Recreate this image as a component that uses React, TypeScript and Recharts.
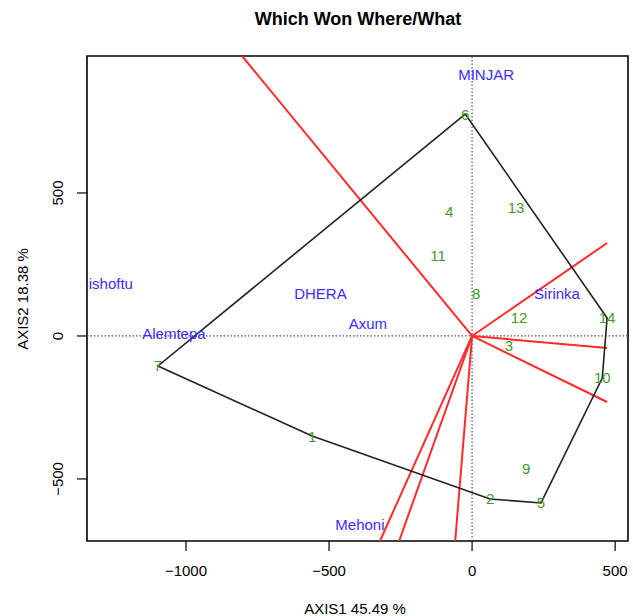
import React from "react";
import {
  ReferenceArea,
  ReferenceLine,
  Scatter,
  ScatterChart,
  XAxis,
  YAxis,
} from "recharts";

// genotype scores (green numbers)
const genotypeNames = ["1", "2", "3", "4", "5", "6", "7", "8", "9", "10", "11", "12", "13", "14"];
const genotypeX = [-559, 63, 129, -80, 241, -24, -1098, 14, 189, 455, -119, 164, 154, 472];
const genotypeY = [-350, -570, -35, 434, -584, 776, -105, 150, -465, -147, 280, 63, 448, 63];

// environment scores (blue labels)
const envNames = ["MINJAR", "Bishoftu", "Alemtepa", "DHERA", "Axum", "Sirinka", "Mehoni"];
const envX = [49, -1280, -1042, -530, -364, 297, -392];
const envY = [916, 182, 10, 147, 45, 147, -661];

// polygon vertices, in drawing order
const hullOrder = ["6", "14", "10", "5", "2", "1", "7", "6"];

// end points of the sector rays from the origin
const rayX = [-804, 472, 472, 472, -322, -255, -59];
const rayY = [979, 325, -42, -231, -717, -717, -717];

const xTicks = [-1000, -500, 0, 500];
const yTicks = [-500, 0, 500];
const xDomain = [-1346, 545];
const yDomain = [-717, 979];

const FONT = "'Liberation Sans', Arial, Helvetica, sans-serif";

const genotypes = genotypeNames.map((name, i) => ({ name, x: genotypeX[i], y: genotypeY[i] }));
const envs = envNames.map((name, i) => ({ name, x: envX[i], y: envY[i] }));
const hull = hullOrder.map((n) => genotypes.find((g) => g.name === n)!);

const minus = (v: number) => String(v).replace("-", "\u2212");

const GenoLabel = (props: any) => (
  <text
    x={props.cx}
    y={props.cy}
    textAnchor="middle"
    dominantBaseline="central"
    fontSize={15}
    fontFamily={FONT}
    fill="#3f9b2c"
  >
    {props.payload.name}
  </text>
);

const EnvLabel = (props: any) => (
  <text
    x={props.cx}
    y={props.cy}
    textAnchor="middle"
    dominantBaseline="central"
    fontSize={15}
    fontFamily={FONT}
    fill="#3a2cff"
  >
    {props.payload.name}
  </text>
);

const NoDot = () => <g />;

const YTick = (props: any) => {
  const bx = props.x - 12;
  return (
    <text
      x={bx}
      y={props.y}
      transform={`rotate(-90, ${bx}, ${props.y})`}
      textAnchor="middle"
      fontSize={15}
      fontFamily={FONT}
      fill="#000"
    >
      {minus(props.payload.value)}
    </text>
  );
};

export default function App() {
  return (
    <div style={{ position: "absolute", left: 0, top: 0, width: 633, height: 616, background: "#fff" }}>
      <ScatterChart
        width={633}
        height={616}
        margin={{ top: 56, right: 5, bottom: 0, left: 0 }}
      >
        <XAxis
          type="number"
          dataKey="x"
          domain={xDomain}
          ticks={xTicks}
          allowDataOverflow
          axisLine={false}
          tickSize={10}
          tickMargin={14}
          height={75}
          tickLine={{ stroke: "#000", strokeWidth: 1.2 }}
          tick={{ fill: "#000", fontSize: 15, fontFamily: FONT }}
          tickFormatter={minus}
        />
        <YAxis
          type="number"
          dataKey="y"
          domain={yDomain}
          ticks={yTicks}
          allowDataOverflow
          axisLine={false}
          tickSize={10}
          tickMargin={2}
          width={87}
          tickLine={{ stroke: "#000", strokeWidth: 1.2 }}
          tick={<YTick />}
        />
        <ReferenceLine x={0} stroke="#555" strokeDasharray="1.5 2" strokeWidth={1.2} ifOverflow="visible" />
        <ReferenceLine y={0} stroke="#555" strokeDasharray="1.5 2" strokeWidth={1.2} ifOverflow="visible" />
        <Scatter
          data={hull}
          line={{ stroke: "#222", strokeWidth: 1.6 }}
          lineType="joint"
          shape={<NoDot />}
          isAnimationActive={false}
        />
        {rayX.map((rx, i) => (
          <ReferenceLine
            key={i}
            segment={[{ x: 0, y: 0 }, { x: rx, y: rayY[i] }]}
            stroke="#ff2a2a"
            strokeWidth={2}
            ifOverflow="visible"
          />
        ))}
        <Scatter data={genotypes} shape={<GenoLabel />} isAnimationActive={false} />
        <Scatter data={envs} shape={<EnvLabel />} isAnimationActive={false} />
        <ReferenceArea
          x1={xDomain[0]}
          x2={xDomain[1]}
          y1={yDomain[0]}
          y2={yDomain[1]}
          fill="none"
          fillOpacity={0}
          stroke="#000"
          strokeWidth={1.6}
          ifOverflow="visible"
        />
      </ScatterChart>
      <svg
        width={633}
        height={616}
        style={{ position: "absolute", left: 0, top: 0, pointerEvents: "none" }}
      >
        <text x={358} y={19} textAnchor="middle" dominantBaseline="central" fontSize={18} fontWeight="bold" fontFamily={FONT}>
          Which Won Where/What
        </text>
        <text x={355} y={608} textAnchor="middle" dominantBaseline="central" fontSize={15} fontFamily={FONT}>
          AXIS1 45.49 %
        </text>
        <text
          x={22}
          y={299}
          transform="rotate(-90, 22, 299)"
          textAnchor="middle"
          dominantBaseline="central"
          fontSize={15}
          fontFamily={FONT}
        >
          AXIS2 18.38 %
        </text>
      </svg>
    </div>
  );
}
